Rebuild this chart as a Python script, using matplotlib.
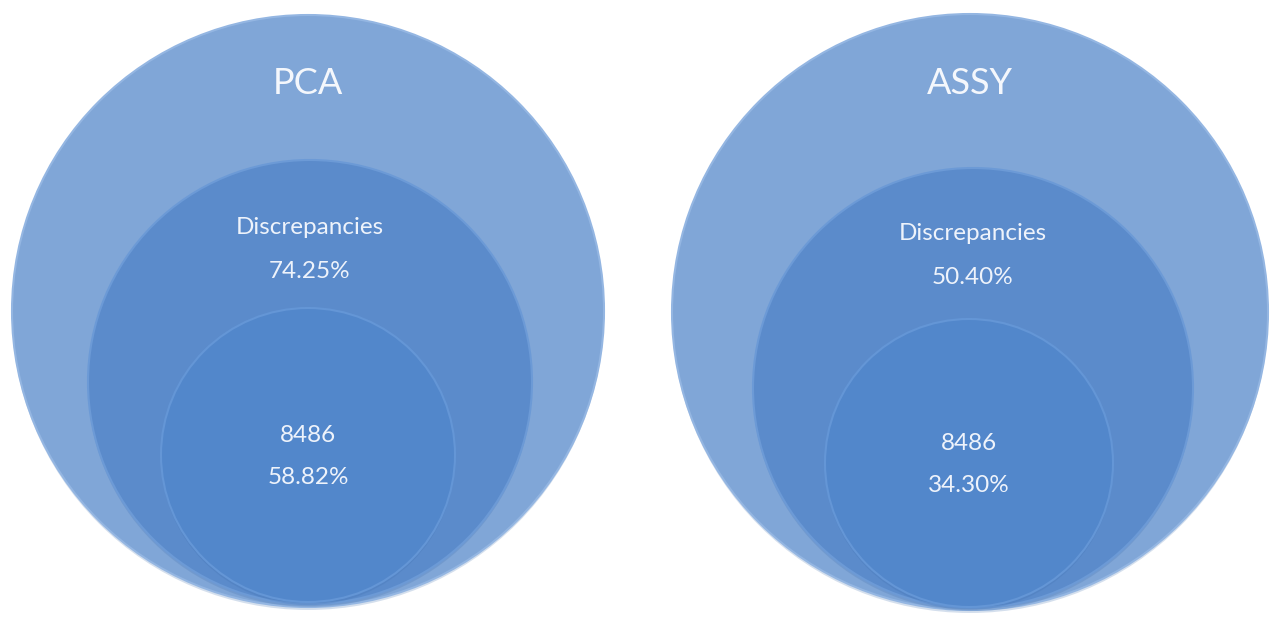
import matplotlib.pyplot as plt
from matplotlib.patches import Circle

# two nested-circle panels
panels = ["PCA", "ASSY"]
middle_label = "Discrepancies"
middle_pct = ["74.25%", "50.40%"]
inner_count = ["8486", "8486"]
inner_pct = ["58.82%", "34.30%"]

# circle layout in pixel coordinates: (cx, cy, r) outer, middle, inner
layout = [
    [(308, 311, 296), (310, 382, 222), (308, 455, 147)],
    [(970, 312, 298), (973, 388, 220), (969, 463, 144)],
]
fills = ["#80a6d7", "#5b8bcb", "#5287cb"]
edges = ["#94b6e2", "#6c9ad6", "#6496d6"]

plt.rcParams['font.family'] = ['Lato', 'DejaVu Sans']

fig = plt.figure(figsize=(12.74, 6.17), dpi=100)
ax = fig.add_axes([0, 0, 1, 1])
ax.set_xlim(0, 1274)
ax.set_ylim(617, 0)
ax.set_aspect('equal')
ax.axis('off')

for i, name in enumerate(panels):
    for (cx, cy, r), fc, ec in zip(layout[i], fills, edges):
        # soft shadow under each disc
        ax.add_patch(Circle((cx, cy + 3), r, facecolor="#3f6fae", alpha=0.22,
                            edgecolor="none"))
        ax.add_patch(Circle((cx, cy), r, facecolor=fc, edgecolor=ec, lw=1.5))
    (ox, oy, orad), (mx, my, mr), (ix, iy, ir) = layout[i]
    ax.text(ox, oy - 228, name, color="#f4f7fc", fontsize=26,
            ha="center", va="center")
    ax.text(mx, my - 154, middle_label, color="#eef3fb", fontsize=17.5,
            ha="center", va="center")
    ax.text(mx, my - 111, middle_pct[i], color="#eef3fb", fontsize=17.5,
            ha="center", va="center")
    ax.text(ix, iy - 19, inner_count[i], color="#eef3fb", fontsize=17.5,
            ha="center", va="center")
    ax.text(ix, iy + 23, inner_pct[i], color="#eef3fb", fontsize=17.5,
            ha="center", va="center")

fig.savefig("out.png", dpi=100)
